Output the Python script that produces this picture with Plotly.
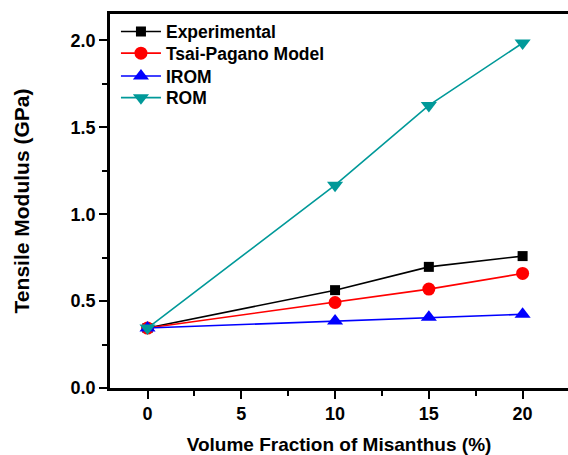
import plotly.graph_objects as go

x_vals = [0, 10, 15, 20]
experimental = [0.345, 0.563, 0.697, 0.759]
tsai_pagano = [0.345, 0.492, 0.569, 0.659]
irom = [0.345, 0.385, 0.407, 0.424]
rom = [0.345, 1.167, 1.626, 1.985]

series = [
    ("Experimental", experimental, "black", "square", 10),
    ("Tsai-Pagano Model", tsai_pagano, "red", "circle", 13),
    ("IROM", irom, "blue", "triangle-up", 14),
    ("ROM", rom, "#009999", "triangle-down", 14),
]
legend_y = [0.953, 0.895, 0.834, 0.776]

fig = go.Figure()
for i, (name, ys, color, sym, size) in enumerate(series):
    fig.add_trace(go.Scatter(
        x=x_vals, y=ys, name=name, mode="lines+markers",
        line=dict(color=color, width=1.6),
        marker=dict(symbol=sym, size=size, color=color),
        legend="legend" if i == 0 else f"legend{i + 1}",
    ))

font_family = "Liberation Sans, Arial, sans-serif"
legend_common = dict(x=0.013, xanchor="left", yanchor="middle",
                     bgcolor="rgba(0,0,0,0)", borderwidth=0,
                     font=dict(size=17.5, weight="bold", color="black"),
                     itemwidth=40)
layout_legends = {}
for i, ly in enumerate(legend_y):
    key = "legend" if i == 0 else f"legend{i + 1}"
    layout_legends[key] = dict(legend_common, y=ly)

fig.update_layout(
    width=568, height=455,
    margin=dict(l=110, r=0, t=14, b=67, autoexpand=False),
    plot_bgcolor="white", paper_bgcolor="white",
    font=dict(family=font_family, size=18, color="black", weight="bold"),
    showlegend=True,
    **layout_legends,
    xaxis=dict(
        range=[-2, 22.42], tickvals=[0, 5, 10, 15, 20],
        showline=True, linecolor="black", linewidth=2.5, mirror=True,
        ticks="outside", ticklen=8, tickwidth=2, tickcolor="black",
        minor=dict(ticks="outside", dtick=2.5, tick0=0, ticklen=5, tickwidth=2, tickcolor="black"),
        showgrid=False, zeroline=False, automargin=False,
        tickfont=dict(size=18, weight="bold"),
        title=dict(text="Volume Fraction of Misanthus (%)", font=dict(size=19, weight="bold"), standoff=22),
    ),
    yaxis=dict(
        range=[0, 2.152], tickvals=[0, 0.5, 1.0, 1.5, 2.0], tickformat=".1f",
        showline=True, linecolor="black", linewidth=2.5, mirror=False,
        ticks="outside", ticklen=8, tickwidth=2, tickcolor="black",
        minor=dict(ticks="outside", dtick=0.25, tick0=0, ticklen=5, tickwidth=2, tickcolor="black"),
        showgrid=False, zeroline=False, automargin=False,
        tickfont=dict(size=18, weight="bold"),
        title=dict(text="Tensile Modulus (GPa)", font=dict(size=21, weight="bold"), standoff=36),
    ),
)

fig.write_html(
    "out.html",
    config={"displayModeBar": False},
    post_script="document.body.style.margin='0px';document.body.style.overflow='hidden';",
)
